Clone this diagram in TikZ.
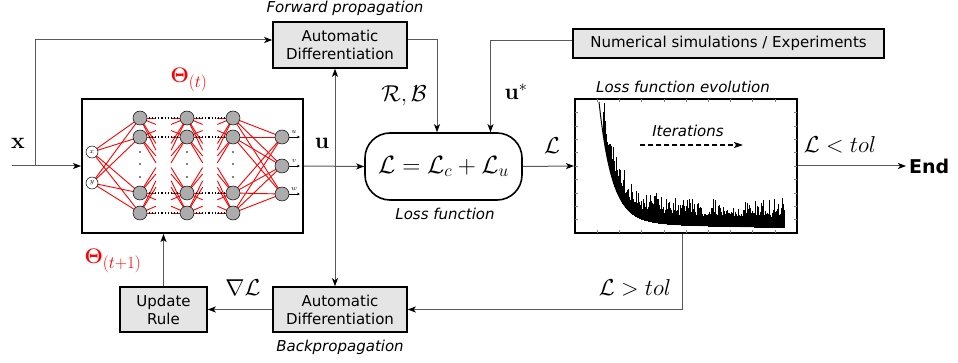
\RequirePackage{fix-cm}
\documentclass[tikz,border=0pt]{standalone}
\usepackage[no-math]{fontspec}
\newfontfamily\dv{DejaVu Sans}
\usetikzlibrary{arrows.meta,calc}
\newcommand\subsz[1]{\mbox{\fontsize{17}{17}\selectfont$#1$}}
\begin{document}
\begin{tikzpicture}[x=1pt,y=-1pt,
  conn/.style={draw=black!65, line width=1pt},
  tipk/.style={-{Stealth[length=8pt,width=6pt,inset=2pt,color=black]}},
  arr/.style={conn,tipk},
  gbox/.style={draw=black, line width=1.6pt, fill=gray!20, align=center, inner sep=0pt,
    font=\fontsize{15}{18}\selectfont\dv},
  itl/.style={font=\fontsize{15}{18}\selectfont\dv\itshape, inner sep=1pt},
  lab/.style={font=\fontsize{23}{27}\selectfont, inner sep=1pt},
  thl/.style={font=\fontsize{21}{25}\selectfont, inner sep=1pt, text=red},
  redl/.style={draw=red, line width=0.9pt},
  neuron/.style={circle, draw=black, line width=0.5pt, fill=gray!65, minimum size=14pt, inner sep=0pt},
  inneuron/.style={circle, draw=black, line width=0.5pt, fill=white, minimum size=12pt, inner sep=0pt,
    font=\fontsize{7}{7}\selectfont},
  tinylab/.style={font=\fontsize{7}{7}\selectfont, inner sep=0pt}
]
\useasboundingbox (0,0) rectangle (958,363);

% ---------- boxes ----------
\node[gbox, minimum width=134pt, minimum height=46pt] (fad) at (340,45) {Automatic\\Differentiation};
\node[gbox, minimum width=134pt, minimum height=45pt] (bad) at (340,309.5) {Automatic\\Differentiation};
\node[gbox, minimum width=87pt, minimum height=45pt] (upd) at (163.5,309.5) {Update\\Rule};
\node[gbox, minimum width=311pt, minimum height=29pt] (ns) at (728.5,43.5) {Numerical simulations / Experiments};
\node[draw, line width=1.6pt, rounded corners=25pt, minimum width=157pt, minimum height=67pt, inner sep=0pt] (loss) at (443.5,166.5)
  {\fontsize{25}{30}\selectfont$\mathcal{L}=\mathcal{L}_c+\mathcal{L}_u$};
\node[draw, line width=2pt, minimum width=221pt, minimum height=134pt] (nn) at (192.5,166) {};
\node[draw, line width=2pt, minimum width=222pt, minimum height=134pt] (plot) at (686,166) {};
\node[font=\fontsize{19}{22}\selectfont\dv\bfseries, anchor=west, inner sep=3pt] (end) at (906,166) {End};

% ---------- captions ----------
\node[itl] (cfp) at (345,8) {Forward propagation};
\node[itl] (cbp) at (340,347) {Backpropagation};
\node[itl] (clf) at (445,214) {Loss function};
\node[itl] (cle) at (683,87) {Loss function evolution};
\node[itl] (cit) at (688,131) {Iterations};

% ---------- math labels ----------
\node[lab] (lx) at (18,143) {$\mathbf{x}$};
\node[lab] (lu) at (322,143) {$\mathbf{u}$};
\node[lab] (lrb) at (404,96) {$\mathcal{R},\mathcal{B}$};
\node[lab] (lus) at (516,92) {$\mathbf{u}^*$};
\node[lab] (lL) at (552,146) {$\mathcal{L}$};
\node[lab] (llt) at (840,145) {$\mathcal{L}<tol$};
\node[lab] (lgt) at (635,288) {$\mathcal{L}>tol$};
\node[lab] (lgrad) at (243,288) {$\nabla\mathcal{L}$};
\node[thl] (th) at (189,80) {$\mathbf{\Theta}_{\subsz{(t)}}$};
\node[thl] (th1) at (113,261) {$\mathbf{\Theta}_{\subsz{(t{+}1)}}$};

% ---------- connectors ----------
\coordinate (xin) at (12,166);
\coordinate (xsplit) at (35,166);
\draw[arr] (xin) -- (nn.west);
\draw[arr] (xsplit) |- ([yshift=5pt]fad.west);
\draw[arr] ([yshift=5pt]fad.east) -| ([xshift=-6.5pt]loss.north);
\draw[arr] ([yshift=2.5pt]ns.west) -| ([xshift=47pt]loss.north);
\draw[arr] (nn.east) -- (loss.west);
\draw[arr] (loss.east) -- (plot.west);
\draw[arr] (plot.east) -- (end.west);
\draw[arr] ([xshift=-4pt]plot.south) |- (bad.east);
\draw[arr] (bad.west) -- (upd.east);
\draw[arr] (upd.north) -- (upd.north |- nn.south);
\draw[conn, {Stealth[length=8pt,width=6pt,inset=2pt,color=black]}-{Stealth[length=8pt,width=6pt,inset=2pt,color=black]}]
  ([xshift=-5pt]fad.south) -- ([xshift=-5pt]bad.north);

% ---------- neural network ----------
\foreach \yi in {152,183} \foreach \yh in {118,137,193,213} \draw[redl] (92,\yi) -- (140,\yh);
\foreach \yh in {118,137,193,213} \foreach \yo in {137,166,194} \draw[redl] (233,\yh) -- (282,\yo);
\foreach \xa/\xb in {140/187,187/233} \foreach \ya in {118,137,193,213} \foreach \yb in {118,137,193,213} {
  \draw[redl] (\xa,\ya) -- ($(\xa,\ya)!0.34!(\xb,\yb)$);
  \draw[redl] ($(\xa,\ya)!0.66!(\xb,\yb)$) -- (\xb,\yb);
}
\foreach \y in {118,137,193,213} {
  \draw[dotted, line width=1.1pt] (149,\y) -- (179,\y);
  \draw[dotted, line width=1.1pt] (196,\y) -- (225,\y);
}
\foreach \x in {140,187,233} \foreach \y in {152,164,177} \fill (\x,\y) circle (0.9pt);
\foreach \x [count=\l] in {140,187,233} \foreach \y [count=\k] in {118,137,193,213}
  \node[neuron] (h\l-\k) at (\x,\y) {};
\node[inneuron] (i1) at (92,152) {$x$};
\node[inneuron] (i2) at (92,183) {$y$};
\foreach \y/\n [count=\k] in {137/u,166/v,194/w} {
  \node[neuron] (o\k) at (282,\y) {};
  \coordinate (oe\k) at (300,\y);
  \draw[line width=0.4pt, -{Stealth[length=3pt,width=2.5pt]}] (o\k.east) -- (oe\k);
  \node[tinylab] (ol\k) at (294,\y-5) {$\n$};
}

% ---------- loss evolution plot ----------
\foreach \k in {1,...,9} {
  \draw[gray, line width=0.4pt] (575,{99+\k*13.4}) -- ++(3,0);
  \draw[gray, line width=0.4pt] (797,{99+\k*13.4}) -- ++(-3,0);
  \draw[gray, line width=0.4pt] ({575+\k*22.2},233) -- ++(0,-3);
  \draw[gray, line width=0.4pt] ({575+\k*22.2},99) -- ++(0,3);
}
\draw[line width=1pt] plot[domain=599:784,samples=140] (\x,{228-118*exp(-(\x-599)/12.95)-8*exp(-(\x-599)/92.5)});
\pgfmathsetseed{7}
\foreach \xx in {603,603.5,...,784}{
  \pgfmathsetmacro\myt{(\xx-599)/185}
  \pgfmathsetmacro\myb{228-118*exp(-\myt/0.07)-8*exp(-\myt/0.5)}
  \pgfmathsetmacro\mya{1+0.8*exp(-\myt/0.1)}
  \pgfmathsetmacro\myu{max(101,\myb-\mya*(8+6*rnd+16*pow(rnd,4)))}
  \draw[line width=0.6pt] (\xx,\myb+1) -- (\xx,\myu);
}
\coordinate (it1) at (640,145);
\coordinate (it2) at (743,145);
\draw[line width=1.2pt, dash pattern=on 5pt off 3pt, -{Stealth[length=9pt,width=6pt,inset=2pt]}] (it1) -- (it2);
\end{tikzpicture}
\end{document}
